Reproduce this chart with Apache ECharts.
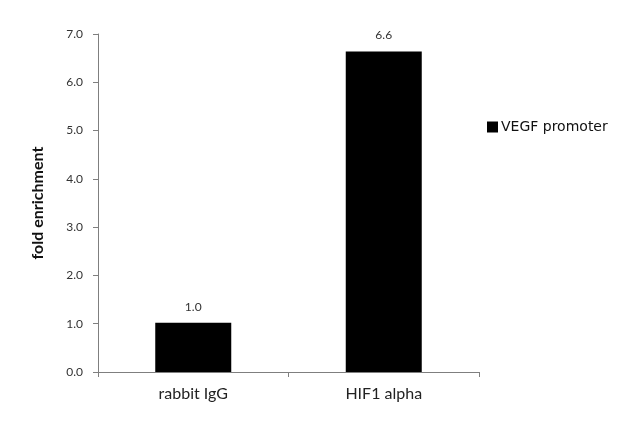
<!DOCTYPE html>
<html><head><meta charset="utf-8">
<script src="https://cdn.jsdelivr.net/npm/echarts@6/dist/echarts.min.js"></script>
<style>html,body{margin:0;padding:0;background:#fff}#c{width:640px;height:425px}</style>
</head><body><div id="c"></div>
<script>
const categories = ['rabbit IgG', 'HIF1 alpha'];
const seriesName = 'VEGF promoter';
const values = [1.02, 6.64];
const valueLabels = ['1.0', '6.6'];
const yTicks = [0, 1, 2, 3, 4, 5, 6, 7];

const chart = echarts.init(document.getElementById('c'), null, {renderer: 'canvas'});
chart.setOption({
  animation: false,
  backgroundColor: '#fff',
  grid: {left: 98, right: 161, top: 34, bottom: 53, containLabel: false},
  legend: {
    data: [seriesName],
    left: 482, top: 115,
    icon: 'rect', itemWidth: 11, itemHeight: 11, itemGap: 4,
    textStyle: {fontFamily: 'DejaVu Sans', fontSize: 14, color: '#111', padding: [0,0,0,-2]}
  },
  xAxis: {
    type: 'category', data: categories,
    axisLine: {lineStyle: {color: '#7f7f7f', width: 1}},
    axisTick: {show: true, length: 5, alignWithLabel: false, lineStyle: {color: '#7f7f7f'}},
    axisLabel: {fontFamily: 'Lato', fontSize: 16, color: '#222', margin: 14}
  },
  yAxis: {
    type: 'value', min: yTicks[0], max: yTicks[yTicks.length - 1], interval: 1,
    name: 'fold enrichment', nameLocation: 'middle', nameGap: 52,
    nameTextStyle: {fontFamily: 'Lato', fontSize: 16, fontWeight: 'bold', color: '#111'},
    axisLine: {show: true, lineStyle: {color: '#7f7f7f', width: 1}},
    axisTick: {show: true, length: 5, lineStyle: {color: '#7f7f7f'}},
    splitLine: {show: false},
    axisLabel: {fontFamily: 'Lato', fontSize: 12, color: '#333', margin: 15,
      formatter: v => v.toFixed(1)}
  },
  series: [{
    name: seriesName, type: 'bar', data: values, barWidth: 76,
    itemStyle: {color: '#000'},
    label: {show: true, position: 'top', distance: 10, fontFamily: 'Lato', fontSize: 12, color: '#333',
      formatter: p => valueLabels[p.dataIndex]}
  }]
});
</script></body></html>
